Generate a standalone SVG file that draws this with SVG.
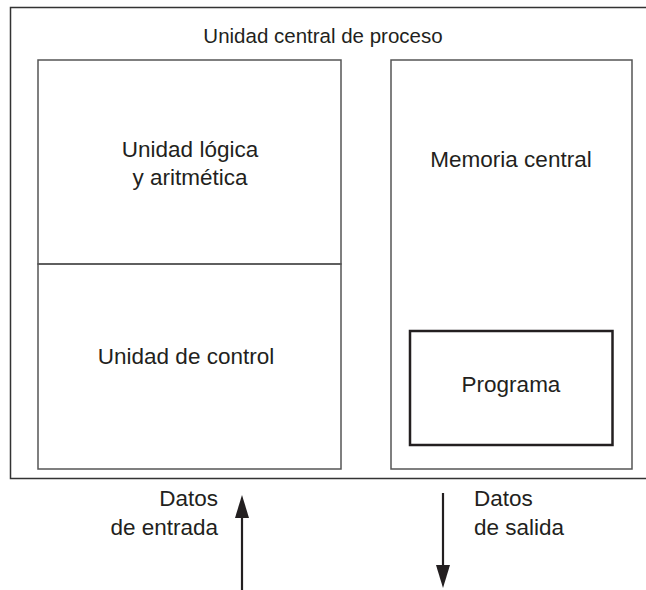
<svg xmlns="http://www.w3.org/2000/svg" width="646" height="590" viewBox="0 0 646 590">
<style>
text{font-family:"Liberation Sans",Arial,sans-serif;font-size:22.5px;fill:#231f20}
.t{font-size:20.5px}
.c{text-anchor:middle}
.box{fill:none;stroke:#555;stroke-width:1.5}
.outer{fill:none;stroke:#333;stroke-width:1.5}
.prog{fill:none;stroke:#231f20;stroke-width:2.5}
.arr{stroke:#231f20;stroke-width:2.2;fill:none}
.head{fill:#231f20}
</style>
<rect width="646" height="590" fill="#fff"/>
<g id="cpu">
<rect class="outer" x="10.5" y="7.5" width="650" height="471"/>
<text class="c t" x="323" y="43">Unidad central de proceso</text>
</g>
<g id="alu">
<rect class="box" x="38" y="60" width="303" height="204"/>
<text class="c" x="190" y="157">Unidad lógica</text>
<text class="c" x="190" y="185">y aritmética</text>
</g>
<g id="control">
<rect class="box" x="38" y="264" width="303" height="205"/>
<text class="c" x="186" y="364">Unidad de control</text>
</g>
<g id="memoria">
<rect class="box" x="391" y="60" width="241" height="409"/>
<text class="c" x="511" y="167">Memoria central</text>
</g>
<g id="programa">
<rect class="prog" x="410" y="331" width="202.5" height="114"/>
<text class="c" x="511" y="392">Programa</text>
</g>
<g id="connectors">
<line class="arr" x1="242" y1="590" x2="242" y2="512"/>
<polygon class="head" points="242,495 235,518 249,518"/>
<line class="arr" x1="443" y1="493" x2="443" y2="570"/>
<polygon class="head" points="443,588 436,565 450,565"/>
</g>
<g id="labels">
<text x="218" y="506" text-anchor="end">Datos</text>
<text x="218" y="535" text-anchor="end">de entrada</text>
<text x="474" y="506">Datos</text>
<text x="474" y="535">de salida</text>
</g>
</svg>
